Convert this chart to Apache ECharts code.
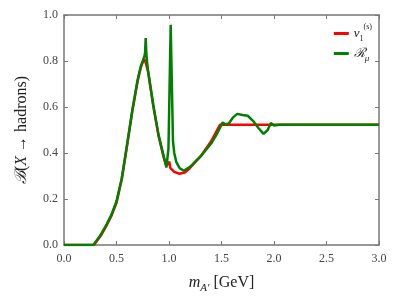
<!DOCTYPE html>
<html><head><meta charset="utf-8">
<script src="https://cdn.jsdelivr.net/npm/echarts@6/dist/echarts.min.js"></script>
<style>html,body{margin:0;padding:0;background:#fff}#c{width:399px;height:299px}</style>
</head><body><div id="c"></div>
<script>
// v1^(s) (red)
var redMass = [0, 0.285, 0.35, 0.406, 0.45, 0.5, 0.55, 0.6, 0.65, 0.7, 0.73, 0.75, 0.765, 0.78, 0.8, 0.85, 0.9, 0.95, 0.975, 0.99, 1.003, 1.012, 1.05, 1.1, 1.15, 1.2, 1.3, 1.4, 1.486, 2.0, 3.0];
var redBR   = [0, 0,     0.04, 0.085, 0.125, 0.184, 0.285, 0.43, 0.58, 0.71, 0.77, 0.795, 0.808, 0.79, 0.755, 0.605, 0.475, 0.38, 0.345, 0.35, 0.362, 0.335, 0.318, 0.31, 0.315, 0.335, 0.385, 0.45, 0.523, 0.523, 0.523];
// R_mu (green)
var greenMass = [0, 0.28, 0.35, 0.406, 0.45, 0.5, 0.55, 0.6, 0.65, 0.7, 0.73, 0.75, 0.765, 0.772, 0.778, 0.784, 0.79, 0.8, 0.85, 0.9, 0.95, 0.975, 0.995, 1.016, 1.038, 1.05, 1.07, 1.1, 1.14, 1.2, 1.3, 1.4, 1.45, 1.48, 1.51, 1.54, 1.57, 1.61, 1.65, 1.7, 1.75, 1.8, 1.85, 1.9, 1.94, 1.97, 2.0, 2.05, 3.0];
var greenBR   = [0, 0,    0.045, 0.09, 0.13, 0.19, 0.29, 0.435, 0.585, 0.715, 0.775, 0.80, 0.82, 0.835, 0.90, 0.835, 0.80, 0.76, 0.61, 0.48, 0.385, 0.337, 0.42, 0.957, 0.45, 0.40, 0.36, 0.335, 0.323, 0.34, 0.385, 0.44, 0.478, 0.505, 0.532, 0.525, 0.528, 0.555, 0.57, 0.565, 0.562, 0.54, 0.51, 0.483, 0.50, 0.53, 0.52, 0.523, 0.523];
var xTicks = [0, 0.5, 1.0, 1.5, 2.0, 2.5, 3.0];
var yTicks = [0, 0.2, 0.4, 0.6, 0.8, 1.0];

function zip(a, b) { return a.map(function (v, i) { return [v, b[i]]; }); }

var serif = 'Liberation Serif';
var axisColor = '#777';
var labelColor = '#444';
var rich = {
  i: { fontFamily: serif, fontStyle: 'italic', fontSize: 16, color: '#222' },
  r: { fontFamily: serif, fontSize: 16, color: '#222' },
  sp: { fontFamily: serif, fontSize: 16, color: '#222', width: 4 },
  sub: { fontFamily: serif, fontStyle: 'italic', fontSize: 11, color: '#222', verticalAlign: 'bottom', padding: [0, 0, -1, 0] },
  li: { fontFamily: serif, fontStyle: 'italic', fontSize: 13, color: '#222' },
  lsub: { fontFamily: serif, fontSize: 8, color: '#222', verticalAlign: 'bottom', padding: [0, 0, -3, 0] },
  lsup: { fontFamily: serif, fontSize: 8, color: '#222', verticalAlign: 'top', padding: [-4, 0, 0, 0] },
  lsubi: { fontFamily: serif, fontStyle: 'italic', fontSize: 9, color: '#222', verticalAlign: 'bottom', padding: [0, 0, -3, 0] }
};

function axisBase(show) {
  return {
    type: 'value',
    axisLine: { show: true, onZero: false, lineStyle: { color: axisColor, width: 1.5 } },
    axisTick: { show: true, inside: true, length: 4, lineStyle: { color: axisColor, width: 1 } },
    splitLine: { show: false },
    axisLabel: { show: show, color: labelColor, fontFamily: serif, fontSize: 12,
      formatter: function (v) { return v.toFixed(1); } }
  };
}

var xb = Object.assign(axisBase(true), {
  min: 0, max: 3, interval: 0.5, position: 'bottom',
  name: '{i|m}{sub|A′}{sp| }{r|[GeV]}', nameLocation: 'middle', nameGap: 28,
  nameTextStyle: { rich: rich, lineHeight: 20 }
});
xb.axisLabel.margin = 8;
var xt = Object.assign(axisBase(false), { min: 0, max: 3, interval: 0.5, position: 'top' });
var yl = Object.assign(axisBase(true), {
  min: 0, max: 1, interval: 0.2, position: 'left',
  name: '{i|ℬ}{r|(}{i|X}{r| → hadrons)}', nameLocation: 'middle', nameGap: 32,
  nameTextStyle: { rich: rich, lineHeight: 20 }
});
yl.axisLabel.margin = 6;
var yr = Object.assign(axisBase(false), { min: 0, max: 1, interval: 0.2, position: 'right' });

var chart = echarts.init(document.getElementById('c'), null, { renderer: 'canvas' });
chart.setOption({
  animation: false,
  backgroundColor: '#fff',
  grid: { left: 64, right: 20, top: 15, bottom: 49, containLabel: false },
  xAxis: [xb, xt],
  yAxis: [yl, yr],
  legend: {
    right: 22, top: 18, orient: 'vertical', itemWidth: 15, itemHeight: 3, itemGap: 4,
    icon: 'rect',
    textStyle: { rich: rich, fontFamily: serif, fontSize: 13 },
    formatter: function (name) {
      return name === 'v' ? '{li|v}{lsub|1}{lsup|(s)}' : '{li|ℛ}{lsubi|μ}';
    },
    data: [
      { name: 'v', itemStyle: { color: '#ff0000' } },
      { name: 'R', itemStyle: { color: '#008000' } }
    ]
  },
  series: [
    { name: 'v', type: 'line', xAxisIndex: 0, yAxisIndex: 0, data: zip(redMass, redBR),
      symbol: 'none', smooth: false, lineStyle: { color: '#ff0000', width: 2.5 }, itemStyle: { color: '#ff0000' } },
    { name: 'R', type: 'line', xAxisIndex: 0, yAxisIndex: 0, data: zip(greenMass, greenBR),
      symbol: 'none', smooth: false, lineStyle: { color: '#008000', width: 2.5 }, itemStyle: { color: '#008000' } }
  ]
});
</script></body></html>
